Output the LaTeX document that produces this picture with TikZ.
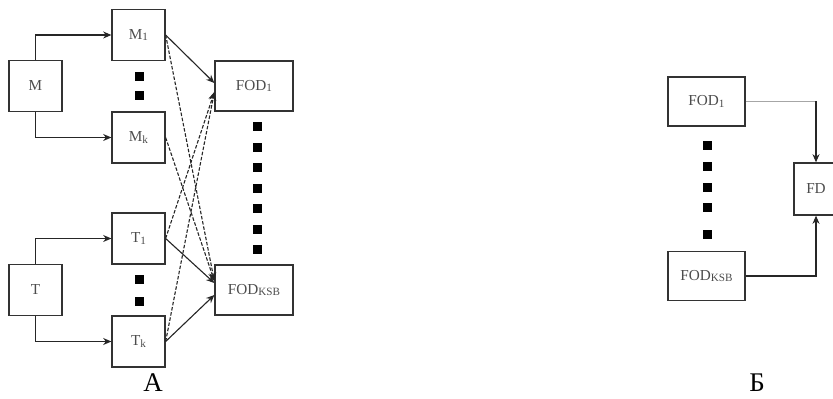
\documentclass[tikz,border=0pt]{standalone}
\usepackage{fontspec}
\setmainfont{Liberation Serif}
\usetikzlibrary{arrows.meta, positioning, calc}
\newcommand{\idx}[1]{\raisebox{-1pt}{\fontsize{9.5}{10}\selectfont #1}}

\begin{document}
\begin{tikzpicture}[x=0.03cm, y=-0.03cm]
    % Styles
    \tikzstyle{block} = [rectangle, draw=black!80, line width=1.1pt, text=black!70, inner sep=0pt, minimum width=1.59cm, minimum height=1.53cm, font=\fontsize{13}{15}\selectfont]
    \tikzstyle{fodblock} = [block, minimum width=2.34cm, minimum height=1.5cm]
    \tikzstyle{arrow} = [line width=0.95pt, ->, >={Stealth[length=7pt, width=6pt]}, black!85]
    \tikzstyle{dashline} = [arrow, dash pattern=on 3pt off 1.5pt]
    \tikzstyle{caption} = [anchor=base, inner sep=0pt, font=\fontsize{23}{25}\selectfont]

    \clip (0,0) rectangle (833,399);

    % Nodes (A)
    \node [block] (m) at (35.5,86) {M};
    \node [block] (m1) at (138.5,35) {M\idx{1}};
    \node [block] (mk) at (138.5,137.5) {M\idx{k}};
    \node [block] (t) at (35.5,290) {T};
    \node [block] (t1) at (138.5,238.5) {T\idx{1}};
    \node [block] (tk) at (138.5,341.5) {T\idx{k}};
    \node [fodblock] (fod1) at (254,86) {FOD\idx{1}};
    \node [fodblock] (fodksb) at (254,290) {FOD\idx{KSB}};

    % Nodes (B)
    \node [fodblock, minimum width=2.31cm, minimum height=1.47cm] (rfod1) at (706.5,101.5) {FOD\idx{1}};
    \node [fodblock, minimum width=2.31cm, minimum height=1.47cm] (rfodksb) at (706.5,276) {FOD\idx{KSB}};
    \node [block, minimum width=1.32cm, minimum height=1.56cm] (fd) at (816,189) {FD};

    % Dots
    \foreach \y in {77,96,280,302} \fill (134.5,\y-4.5) rectangle +(9,9);
    \foreach \y in {127,147.5,168,188.5,209,229.5,250} \fill (252.5,\y-4.5) rectangle +(9,9);
    \foreach \y in {146,167,188,208,235} \fill (702.5,\y-4.5) rectangle +(9,9);

    % Arrows (A)
    \draw [arrow] (m.north) |- (m1.west);
    \draw [arrow] (m.south) |- (mk.west);
    \draw [arrow] (t.north) |- (t1.west);
    \draw [arrow] (t.south) |- (tk.west);
    \draw [arrow] (m1.east) -- ($(fod1.west)+(0,-3)$);
    \draw [dashline] (m1.east) -- ($(fodksb.west)+(0,-9)$);
    \draw [dashline] (mk.east) -- ($(fodksb.west)+(0,-9)$);
    \draw [dashline] (t1.east) -- ($(fod1.west)+(0,6)$);
    \draw [dashline] (tk.east) -- ($(fod1.west)+(0,6)$);
    \draw [arrow] (t1.east) -- ($(fodksb.west)+(0,-7)$);
    \draw [arrow] (tk.east) -- ($(fodksb.west)+(0,5)$);

    % Arrows (B)
    \coordinate (topturn) at (rfod1.east -| fd.north);
    \draw [line width=0.95pt, black!35] (rfod1.east) -- (topturn);
    \draw [arrow] (topturn) -- (fd.north);
    \draw [arrow] (rfodksb.east) -| (fd.south);

    % Captions
    \node [caption] (capa) at (153,392) {А};
    \node [caption] (capb) at (757,392) {Б};
\end{tikzpicture}
\end{document}
